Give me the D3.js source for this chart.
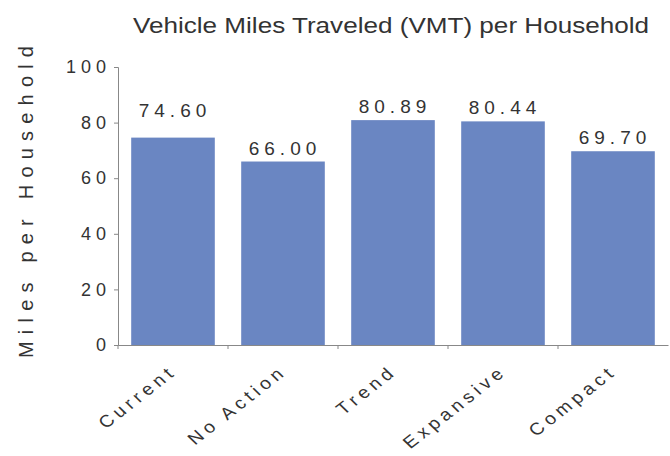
<!DOCTYPE html>
<html>
<head>
<meta charset="utf-8">
<script src="https://cdn.jsdelivr.net/npm/d3@7"></script>
<style>
  body { margin: 0; background: #fff; }
  text { font-family: "Liberation Sans", Arial, sans-serif; fill: #333; }
</style>
</head>
<body>
<script>
'use strict';

// chart data
const scenarios = ["Current", "No Action", "Trend", "Expansive", "Compact"];
const vmt = [74.60, 66.00, 80.89, 80.44, 69.70];
const yTicks = [0, 20, 40, 60, 80, 100];

const width = 670, height = 456;

const svg = d3.select('body')
  .append('svg')
  .attr('width', width)
  .attr('height', height);

// scales
const xScale = d3.scaleBand()
  .domain(scenarios)
  .range([118, 668])
  .paddingInner(0.24)
  .paddingOuter(0.12);

const yScale = d3.scaleLinear()
  .domain([0, 100])
  .range([345, 67]);

// bars
svg.selectAll('.bar')
  .data(scenarios)
  .enter()
  .append('rect')
    .attr('class', 'bar')
    .attr('x', (d) => xScale(d))
    .attr('y', (d, i) => yScale(vmt[i]))
    .attr('width', xScale.bandwidth())
    .attr('height', (d, i) => yScale(0) - yScale(vmt[i]))
    .attr('fill', '#6a86c2');

// value labels above bars (first one sits a bit higher in the original)
svg.selectAll('.val')
  .data(scenarios)
  .enter()
  .append('text')
    .attr('class', 'val')
    .attr('x', (d) => xScale(d) + xScale.bandwidth() / 2 + 2)
    .attr('y', (d, i) => yScale(vmt[i]) - (i === 0 ? 21 : 7))
    .attr('text-anchor', 'middle')
    .style('font-size', '19px')
    .style('letter-spacing', '5px')
    .text((d, i) => vmt[i].toFixed(2));

// y axis
const yAxis = d3.axisLeft(yScale)
  .tickValues(yTicks)
  .tickSize(4)
  .tickPadding(3);
const gy = svg.append('g')
  .attr('transform', 'translate(118, 0)')
  .call(yAxis);
gy.select('.domain').attr('stroke', '#888');
gy.selectAll('.tick line').attr('stroke', '#888');
gy.selectAll('.tick text')
  .style('font-size', '18px')
  .style('letter-spacing', '5px')
  .attr('fill', '#444');

// x axis
const xAxis = d3.axisBottom(xScale)
  .tickSize(0)
  .tickFormat('');
const gx = svg.append('g')
  .attr('transform', 'translate(0, 345)')
  .call(xAxis);
gx.select('.domain').attr('stroke', '#888');

// tick marks between categories
const step = xScale.step();
svg.selectAll('.sep')
  .data(scenarios)
  .enter()
  .append('line')
    .attr('x1', (d) => xScale(d) - xScale.paddingOuter() * step)
    .attr('x2', (d) => xScale(d) - xScale.paddingOuter() * step)
    .attr('y1', 345)
    .attr('y2', 349)
    .attr('stroke', '#888');

// category labels, slanted (the original is a bit stretched sideways)
svg.selectAll('.cat')
  .data(scenarios)
  .enter()
  .append('text')
    .attr('class', 'cat')
    .attr('text-anchor', 'end')
    .attr('transform', (d) => 'translate(' + (xScale(d) + xScale.bandwidth() / 2 + 5) + ',' + 373 + ') scale(1.15,1) rotate(-42)')
    .style('font-size', '17px')
    .style('letter-spacing', '4px')
    .text((d) => d);

// title
svg.append('text')
  .attr('x', 391)
  .attr('y', 33)
  .attr('text-anchor', 'middle')
  .attr('textLength', 516)
  .attr('lengthAdjust', 'spacingAndGlyphs')
  .style('font-size', '22px')
  .attr('fill', '#222')
  .text('Vehicle Miles Traveled (VMT) per Household');

// y axis label
svg.append('text')
  .attr('transform', 'translate(33, 202) rotate(-90)')
  .attr('text-anchor', 'middle')
  .attr('textLength', 312)
  .attr('lengthAdjust', 'spacing')
  .style('font-size', '20px')
  .text('Miles per Household');
</script>
</body>
</html>
